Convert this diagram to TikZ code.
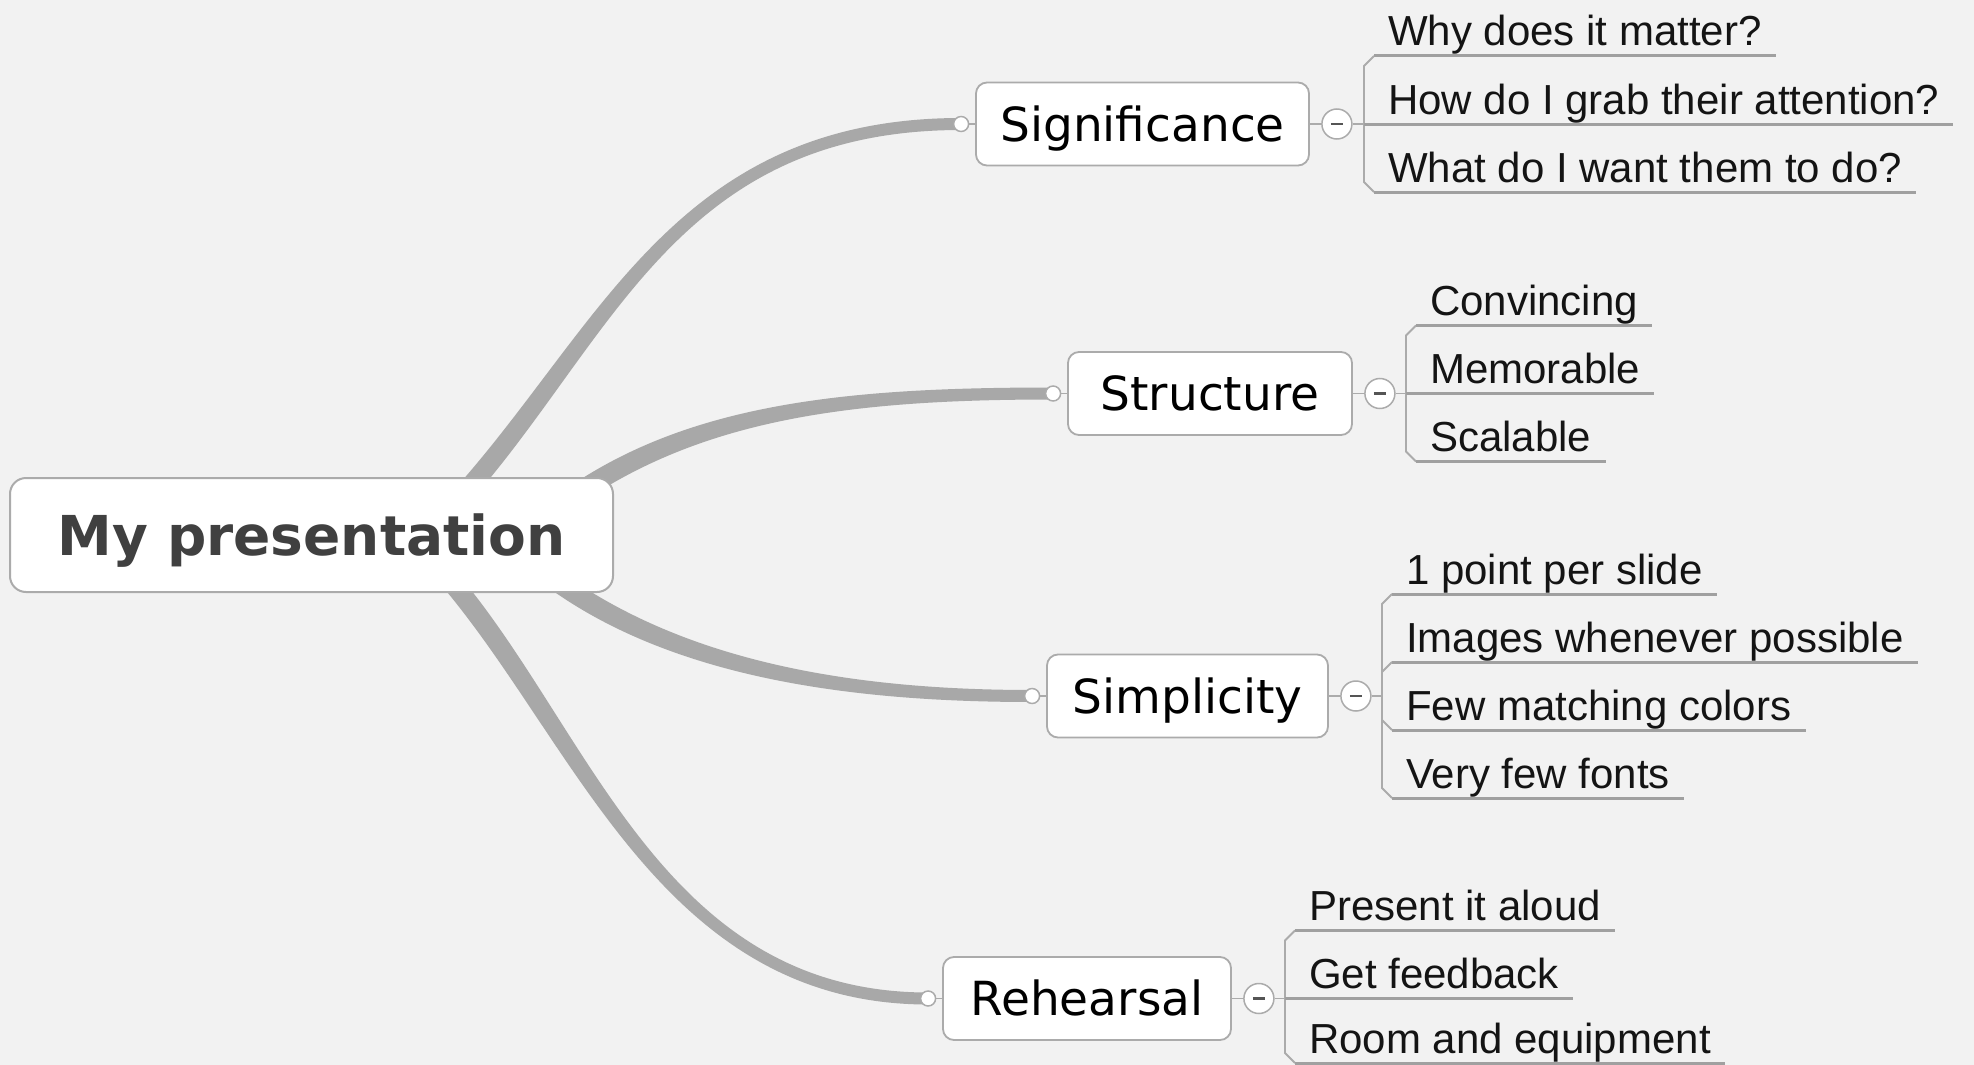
\documentclass[tikz,border=0pt]{standalone}
\usepackage{fontspec}
\newfontfamily\djv{DejaVu Sans}
\newfontfamily\lib{Liberation Sans}
\usetikzlibrary{calc}
\definecolor{bg}{HTML}{F2F2F2}
\definecolor{conn}{HTML}{A8A8A8}
\definecolor{boxline}{HTML}{ABABAB}
\definecolor{roottext}{HTML}{404040}
\definecolor{ulinec}{HTML}{A0A0A0}
\definecolor{minusc}{HTML}{555555}
\pgfdeclarelayer{back}
\pgfsetlayers{back,main}
% #1 start, #2 first control, #3 end node, #4 x offset of second control, #5,#6 half-width normal at start
\newcommand\taperconn[6]{%
  \fill[conn] ($(#1)+(#5,#6)$) .. controls ($(#2)+(#5,#6)$) and ($(#3)+(#4,-6)$) .. ($(#3)+(0,-6)$)
    -- ($(#3)+(0,6)$) .. controls ($(#3)+(#4,6)$) and ($(#2)-(#5,#6)$) .. ($(#1)-(#5,#6)$) -- cycle;}
\begin{document}
\begin{tikzpicture}[x=1pt,y=-1pt,
  rootbox/.style={draw=boxline, line width=2pt, fill=white, rounded corners=16pt,
    minimum width=603pt, minimum height=114pt, inner sep=0pt, text height=40pt, text depth=0pt,
    font=\djv\bfseries\fontsize{55}{60}\selectfont, text=roottext},
  topicbox/.style={draw=boxline, line width=1.8pt, fill=white, rounded corners=11pt,
    minimum height=83pt, inner sep=0pt, text height=34pt, text depth=0pt,
    font=\djv\fontsize{47}{52}\selectfont, text=black},
  port/.style={circle, draw=boxline, fill=white, line width=1.5pt, minimum size=15pt, inner sep=0pt},
  minusbox/.style={circle, draw=boxline, fill=white, line width=1.5pt, minimum size=30pt, inner sep=0pt},
  minusdash/.style={draw=minusc, line width=2.4pt},
  subtext/.style={font=\lib\fontsize{42}{46}\selectfont, inner sep=0pt, anchor=base west, text=black!92},
  uline/.style={draw=ulinec, line width=3pt},
  bracket/.style={draw=boxline, line width=1.8pt},
]
\useasboundingbox (0,0) rectangle (1974,1065);

% ---------- main nodes ----------
\node[rootbox] (root) at (311.5,535) {My presentation};
\node[topicbox, minimum width=333pt] (sig) at (1142.5,124) {Significance};
\node[topicbox, minimum width=284pt] (str) at (1210,393.5) {Structure};
\node[topicbox, minimum width=281pt] (sim) at (1187.5,696) {Simplicity};
\node[topicbox, minimum width=288pt] (reh) at (1087,998.5) {Rehearsal};

% ports
\node[port] (sigp) at ($(sig.west)+(-14,0)$) {};
\node[port] (strp) at ($(str.west)+(-14,0)$) {};
\node[port] (simp) at ($(sim.west)+(-14,0)$) {};
\node[port] (rehp) at ($(reh.west)+(-14,0)$) {};
\draw[bracket] (sigp) -- (sig.west);
\draw[bracket] (strp) -- (str.west);
\draw[bracket] (simp) -- (sim.west);
\draw[bracket] (rehp) -- (reh.west);

% ---------- connectors (behind) ----------
\coordinate (sigs) at (430,530);
\coordinate (sigc) at (600,360);
\coordinate (strs) at (575,495);
\coordinate (strc) at (700,410);
\coordinate (sims) at (555,580);
\coordinate (simc) at (680,670);
\coordinate (rehs) at (450,580);
\coordinate (rehc) at (585,740);
\begin{pgfonlayer}{back}
  \fill[bg] (0,0) rectangle (1974,1065);
  \taperconn{sigs}{sigc}{sigp}{-303}{-7.1}{-7.1}
  \taperconn{strs}{strc}{strp}{-200}{-5.5}{-8.3}
  \taperconn{sims}{simc}{simp}{-180}{5.8}{-8.2}
  \taperconn{rehs}{rehc}{rehp}{-265}{7.6}{-6.4}
\end{pgfonlayer}

% ---------- Significance branch ----------
\node[minusbox] (sigm) at ($(sig.east)+(27,0)$) {};
\draw[minusdash] ($(sigm.center)+(-6,0)$) -- ($(sigm.center)+(6,0)$);
\draw[bracket] (sig.east) -- (sigm.west);
\draw[bracket] (sigm.east) -- (1364,124);
\draw[bracket] (1374,56) -- (1364,66) -- (1364,182) -- (1374,192);
\node[subtext] (s11) at (1388,46) {Why does it matter?};
\node[subtext] (s12) at (1388,114) {How do I grab their attention?};
\node[subtext] (s13) at (1388,182) {What do I want them to do?};
\draw[uline] (1374,56) -- (s11.east |- 0,56) -- ++(14,0);
\draw[uline] (1364,124) -- (s12.east |- 0,124) -- ++(14,0);
\draw[uline] (1374,192) -- (s13.east |- 0,192) -- ++(14,0);

% ---------- Structure branch ----------
\node[minusbox] (strm) at ($(str.east)+(27,0)$) {};
\draw[minusdash] ($(strm.center)+(-6,0)$) -- ($(strm.center)+(6,0)$);
\draw[bracket] (str.east) -- (strm.west);
\draw[bracket] (strm.east) -- (1406,393.5);
\draw[bracket] (1416,325.5) -- (1406,335.5) -- (1406,451.5) -- (1416,461.5);
\node[subtext] (s21) at (1430,315.5) {Convincing};
\node[subtext] (s22) at (1430,383.5) {Memorable};
\node[subtext] (s23) at (1430,451.5) {Scalable};
\draw[uline] (1416,325.5) -- (s21.east |- 0,325.5) -- ++(14,0);
\draw[uline] (1406,393.5) -- (s22.east |- 0,393.5) -- ++(14,0);
\draw[uline] (1416,461.5) -- (s23.east |- 0,461.5) -- ++(14,0);

% ---------- Simplicity branch ----------
\node[minusbox] (simm) at ($(sim.east)+(27,0)$) {};
\draw[minusdash] ($(simm.center)+(-6,0)$) -- ($(simm.center)+(6,0)$);
\draw[bracket] (sim.east) -- (simm.west);
\draw[bracket] (simm.east) -- (1382,696);
\draw[bracket] (1392,594) -- (1382,604) -- (1382,788) -- (1392,798);
\draw[bracket] (1392,662) -- (1382,672);
\draw[bracket] (1392,730) -- (1382,720);
\node[subtext] (s31) at (1406,584) {1 point per slide};
\node[subtext] (s32) at (1406,652) {Images whenever possible};
\node[subtext] (s33) at (1406,720) {Few matching colors};
\node[subtext] (s34) at (1406,788) {Very few fonts};
\draw[uline] (1392,594) -- (s31.east |- 0,594) -- ++(14,0);
\draw[uline] (1392,662) -- (s32.east |- 0,662) -- ++(14,0);
\draw[uline] (1392,730) -- (s33.east |- 0,730) -- ++(14,0);
\draw[uline] (1392,798) -- (s34.east |- 0,798) -- ++(14,0);

% ---------- Rehearsal branch ----------
\node[minusbox] (rehm) at ($(reh.east)+(27,0)$) {};
\draw[minusdash] ($(rehm.center)+(-6,0)$) -- ($(rehm.center)+(6,0)$);
\draw[bracket] (reh.east) -- (rehm.west);
\draw[bracket] (rehm.east) -- (1285,998.5);
\draw[bracket] (1295,930.5) -- (1285,940.5) -- (1285,1053) -- (1295,1063);
\node[subtext] (s41) at (1309,920.5) {Present it aloud};
\node[subtext] (s42) at (1309,988.5) {Get feedback};
\node[subtext] (s43) at (1309,1053) {Room and equipment};
\draw[uline] (1295,930.5) -- (s41.east |- 0,930.5) -- ++(14,0);
\draw[uline] (1285,998.5) -- (s42.east |- 0,998.5) -- ++(14,0);
\draw[uline] (1295,1063) -- (s43.east |- 0,1063) -- ++(14,0);
\end{tikzpicture}
\end{document}
